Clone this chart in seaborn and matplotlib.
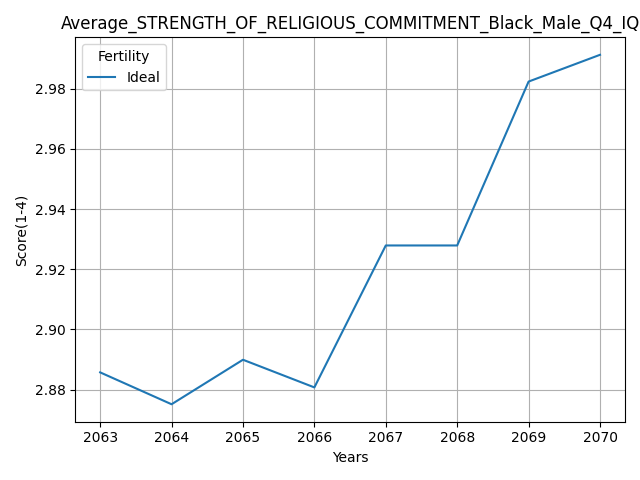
import matplotlib
matplotlib.use("Agg")
import matplotlib.pyplot as plt
import seaborn as sns
import pandas as pd

years = [2063, 2064, 2065, 2066, 2067, 2068, 2069, 2070]
ideal = [2.8857, 2.8751, 2.8899, 2.8807, 2.9279, 2.9279, 2.9824, 2.9913]

df = pd.DataFrame({"Years": years, "Score": ideal, "Fertility": "Ideal"})

fig, ax = plt.subplots(figsize=(6.4, 4.8), dpi=100)
sns.lineplot(data=df, x="Years", y="Score", hue="Fertility", ax=ax)
ax.grid(True)
ax.set_title("Average_STRENGTH_OF_RELIGIOUS_COMMITMENT_Black_Male_Q4_IQ")
ax.set_xlabel("Years")
ax.set_ylabel("Score(1-4)")
ax.legend(title="Fertility", loc="upper left")
plt.tight_layout()
plt.savefig("out.png", dpi=100)
